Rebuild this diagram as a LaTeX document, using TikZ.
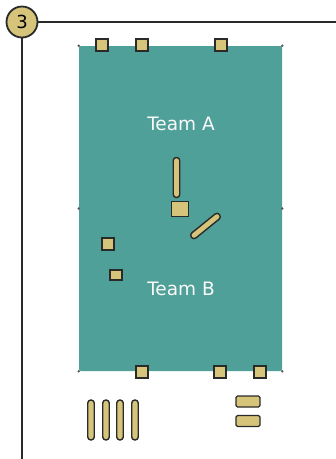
\documentclass[tikz,border=0pt]{standalone}
\usepackage{fontspec}
\setsansfont{DejaVu Sans}
\usepackage{xcolor}
\usepackage{tikz}

\definecolor{boardteal}{HTML}{4FA098}
\definecolor{padkhaki}{HTML}{D5C47A}
\definecolor{edgegray}{HTML}{2A2A2A}

\begin{document}
\begin{tikzpicture}[
  x=1pt,y=-1pt,
  pad/.style={draw=edgegray,fill=padkhaki,line width=1.6pt,minimum width=11.5pt,
              minimum height=11.5pt,inner sep=0pt},
  pill/.style={draw=edgegray,fill=padkhaki,line width=1.4pt,rounded corners=3pt,
               inner sep=0pt,minimum width=6.5pt,minimum height=40pt},
  bar/.style={draw=edgegray,fill=padkhaki,line width=1.4pt,rounded corners=1.5pt,
              inner sep=0pt,minimum width=24pt,minimum height=11pt},
  handle/.style={circle,fill=gray!70!black,inner sep=0pt,minimum size=2.8pt},
  team/.style={text=white!95!gray,font=\sffamily\fontsize{18.5}{20}\selectfont}
]
 \useasboundingbox (0,0) rectangle (336,459);
 % frame with the step number
 \node[circle,draw=edgegray,fill=padkhaki,line width=1.8pt,minimum size=31pt,
       inner sep=0pt,font=\sffamily\fontsize{18}{20}\selectfont] (num) at (22,22) {3};
 \coordinate (topend) at (336,22);
 \coordinate (leftend) at (22,459);
 \draw[edgegray,line width=2pt] (num.east) -- (topend);
 \draw[edgegray,line width=2pt] (num.south) -- (leftend);

 % board
 \node[fill=boardteal,rounded corners=2pt,minimum width=203pt,minimum height=325pt,
       inner sep=0pt] (board) at (180.5,208.5) {};
 \foreach \c in {north west,north east,west,east,south west,south east}
   \node[handle] at (board.\c) {};
 \node[team] (teama) at (181,124) {Team A};
 \node[team] (teamb) at (181,289) {Team B};

 % pads along the edges
 \foreach \x [count=\i] in {102,142,221}
   \node[pad] (top\i) at (\x,45) {};
 \foreach \x [count=\i] in {142,220,260}
   \node[pad] (bot\i) at (\x,372) {};
 \node[pad,minimum width=12.5pt,minimum height=12pt] (left1) at (108,244) {};
 \node[pad,minimum width=12.5pt,minimum height=10.5pt] (left2) at (116,275) {};

 % clock
 \node[pad,minimum width=17pt,minimum height=15pt] (hub) at (180,209) {};
 \node[pill,minimum height=40pt,minimum width=6.5pt] (hand1) at (176.5,177.5) {};
 \node[pill,minimum height=36pt,minimum width=6.5pt,rotate=-51] (hand2) at (205.5,226) {};

 % parts below the board
 \foreach \x [count=\i] in {91,106,120,135}
   \node[pill] (leg\i) at (\x,420) {};
 \node[bar] (bar1) at (248,401.5) {};
 \node[bar] (bar2) at (248,421) {};
\end{tikzpicture}
\end{document}
